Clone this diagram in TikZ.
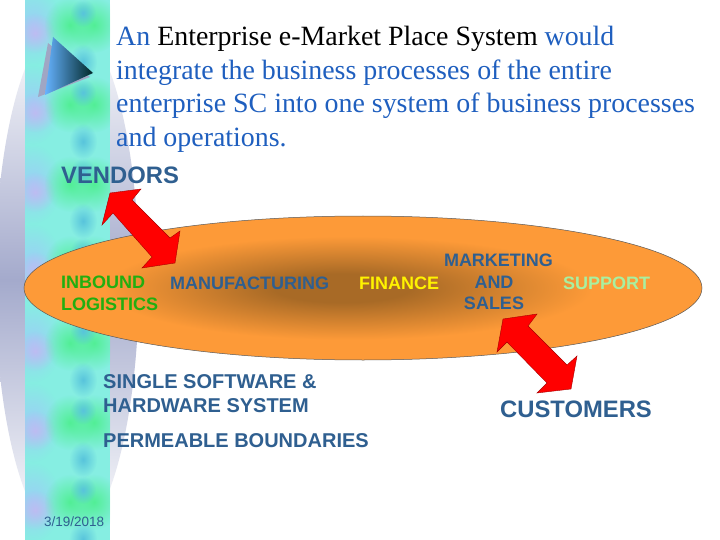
\documentclass[tikz,border=0pt]{standalone}
\usepackage{fontspec}
\setmainfont{Liberation Serif}
\setsansfont{Liberation Sans}
\usetikzlibrary{fadings}
\definecolor{titleblue}{HTML}{1F5FBF}
\definecolor{slateblue}{HTML}{2F5F90}
\definecolor{ovalorange}{HTML}{FD9A38}
\definecolor{ovaldark}{HTML}{A86A26}
\definecolor{stripaqua}{HTML}{86EEE2}
\definecolor{stripblue}{HTML}{9CCFF6}
\definecolor{striplilac}{HTML}{BDBCF2}
\definecolor{stripgreen}{HTML}{52EE96}
\definecolor{stripteal}{HTML}{58C4DC}
\definecolor{silverblue}{HTML}{A4AACC}
\definecolor{inboundgreen}{HTML}{22AE10}
\definecolor{supportgreen}{HTML}{A8F0A0}
\pgfdeclareradialshading{ovalglow}{\pgfpoint{-1.7bp}{0bp}}{color(0bp)=(ovaldark); color(5bp)=(ovaldark); color(18bp)=(ovalorange); color(50bp)=(ovalorange)}
\tikzfading[name=softblob, inner color=transparent!0, outer color=transparent!100]
\tikzstyle{blob} = [path fading=softblob]
\tikzstyle{redarrow} = [fill=red, draw=red!65!black, line width=0.4pt, line join=miter]
\tikzstyle{label} = [font=\sffamily\bfseries\fontsize{18}{21.6}\selectfont, text=slateblue, inner sep=0pt]
\tikzstyle{biglabel} = [label, font=\sffamily\bfseries\fontsize{20}{24}\selectfont]
\tikzstyle{hugelabel} = [label, font=\sffamily\bfseries\fontsize{23.8}{28}\selectfont]
\begin{document}
\begin{tikzpicture}[x=1pt, y=-1pt]
    \useasboundingbox (0,0) rectangle (720,540);
    \fill [white] (0,0) rectangle (720,540);
    \begin{scope}
        \clip (0,0) rectangle (720,540);
        \shade [top color=white, bottom color=white, middle color=silverblue] (67,280) ellipse [x radius=72, y radius=260];
    \end{scope}
    \fill [stripaqua] (25,0) rectangle (110,540);
    \begin{scope}
        \clip (25,0) rectangle (110,540);
        \foreach \k in {-1,...,6} {
            \pgfmathsetmacro{\rowy}{25+79.5*\k}
            \fill [blob, stripblue] (33,\rowy) ellipse [x radius=28, y radius=40];
            \fill [blob, striplilac] (35,\rowy+8) ellipse [x radius=20, y radius=20];
            \fill [blob, stripgreen] (70,\rowy) ellipse [x radius=26, y radius=28];
            \fill [blob, stripgreen] (94,\rowy) ellipse [x radius=26, y radius=28];
            \fill [blob, stripteal] (83,\rowy-12) ellipse [x radius=13, y radius=14];
            \fill [blob, stripteal] (83,\rowy+37) ellipse [x radius=14, y radius=18];
        }
    \end{scope}
    \fill [silverblue!90!gray] (48,43) -- (38,97) -- (90,77) -- cycle;
    \shade [left color=cyan!50!blue!60!white, right color=black!85!cyan] (53,37) -- (93,73) -- (45,95) -- cycle;
    \node [anchor=north west, inner sep=0pt, align=left, text=titleblue, font=\fontsize{27.9}{33.7}\selectfont] (title) at (116,26) {An \textcolor{black}{Enterprise e-Market Place System} would\\integrate the business processes of the entire\\enterprise SC into one system of business processes\\and operations.};
    \shade [shading=ovalglow, draw=black!65, line width=0.5pt] (363,288) ellipse [x radius=339, y radius=72];
    \fill [redarrow] (110,193) -- (141,189) -- (132,200) -- (170,238) -- (180,231) -- (175,263) -- (142,268) -- (152,257) -- (113,213) -- (102,225) -- cycle;
    \fill [redarrow] (503,319) -- (537,314) -- (528,326) -- (567,365) -- (577,356) -- (571,389) -- (537,393) -- (547,383) -- (507,342) -- (497,352) -- cycle;
    \node [hugelabel, anchor=west] (vendors) at (61,175) {VENDORS};
    \node [label, anchor=north west, align=left, text=inboundgreen] (inbound) at (61,276) {INBOUND\\LOGISTICS};
    \node [label, anchor=west] (manufacturing) at (170,283) {MANUFACTURING};
    \node [label, anchor=west, text=yellow] (finance) at (359,283) {FINANCE};
    \node [label, align=center] (marketing) at (494,282) {\hspace*{9pt}MARKETING\\AND\\SALES};
    \node [label, anchor=west, text=supportgreen] (support) at (563,283) {SUPPORT};
    \node [biglabel, anchor=north west, align=left] (single) at (103,374) {SINGLE SOFTWARE \&\\HARDWARE SYSTEM};
    \node [biglabel, anchor=west] (permeable) at (103,441) {PERMEABLE BOUNDARIES};
    \node [hugelabel, anchor=west] (customers) at (500,409) {CUSTOMERS};
    \node [anchor=west, inner sep=0pt, text=slateblue, font=\sffamily\fontsize{13.5}{16}\selectfont] (date) at (44,522) {3/19/2018};
\end{tikzpicture}
\end{document}
